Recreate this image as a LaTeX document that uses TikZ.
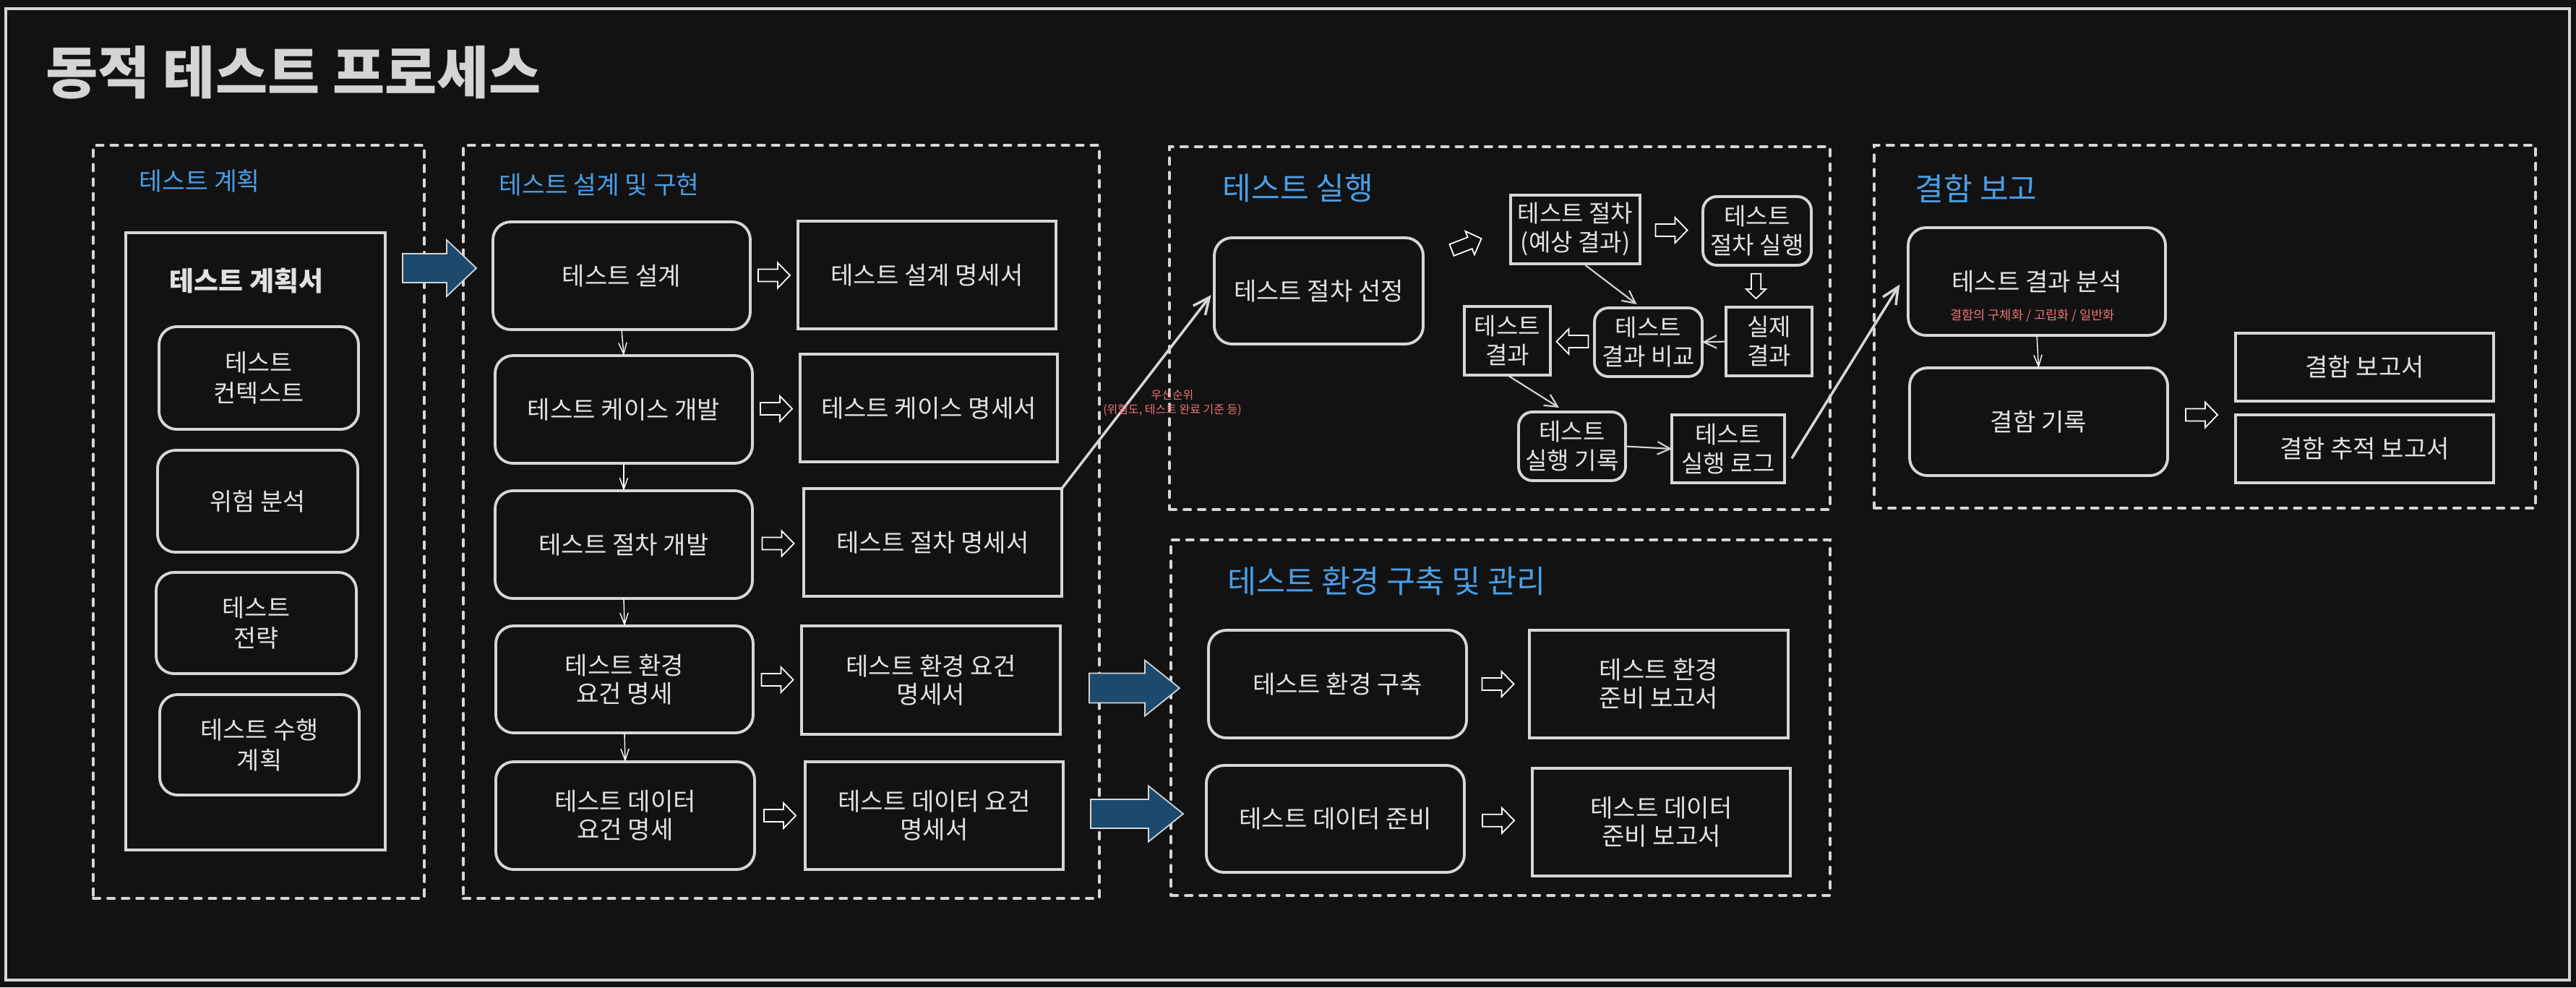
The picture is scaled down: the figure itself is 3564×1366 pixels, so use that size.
\documentclass[tikz,border=0pt]{standalone}
\usepackage{fontspec}
\setmainfont{Noto Sans CJK KR}
\usetikzlibrary{arrows.meta,calc}
\definecolor{bgC}{HTML}{121212}
\definecolor{lineC}{HTML}{D6D6D6}
\definecolor{txtC}{HTML}{E2E2E2}
\definecolor{titleC}{HTML}{D4D4D4}
\definecolor{blueC}{HTML}{4A9EE6}
\definecolor{redC}{HTML}{F07272}
\definecolor{arrC}{HTML}{1B4A6E}
\newcommand\myfs[2]{\fontsize{#1}{#2}\selectfont}
\begin{document}
\begin{tikzpicture}[x=0.01cm,y=-0.01cm,
  sz/.style 2 args={minimum width=#1*0.01cm,minimum height=#2*0.01cm},
  base/.style={inner sep=0pt,outer sep=0pt,align=center,text=txtC,font=\myfs{9.7pt}{11.1pt}},
  rbox/.style={base,draw=lineC,line width=1.1pt,rounded corners=7pt,fill=bgC},
  srbox/.style={rbox,rounded corners=5.5pt,font=\myfs{9.4pt}{11.4pt}},
  sqbox/.style={base,draw=lineC,line width=1.1pt,fill=bgC},
  ssqbox/.style={sqbox,font=\myfs{9.4pt}{11.4pt}},
  pbox/.style={rbox,font=\myfs{9.6pt}{12pt}},
  grp/.style={draw=lineC,line width=1.1pt,dash pattern=on 2.6pt off 3.1pt,line cap=round,inner sep=0pt,outer sep=0pt},
  lbl/.style={inner sep=0pt,anchor=west,text=blueC},
  note/.style={inner sep=0pt,align=center,text=redC},
  thinarr/.style={draw=white,line width=0.4pt,-{Straight Barb[length=4.5pt,width=3.2pt]}},
  midarr/.style={draw=lineC,line width=0.6pt,-{Straight Barb[length=5pt,width=5pt]}},
  annarr/.style={draw=lineC,line width=1pt,-{Straight Barb[length=6.5pt,width=6pt]}},
  harrow/.pic={\draw[line width=0.5pt,draw=white,fill=bgC] (-22,-8.5)--(5,-8.5)--(5,-17.5)--(22,0)--(5,17.5)--(5,8.5)--(-22,8.5)--cycle;},
  pics/bigarrow/.style n args={4}{code={\draw[line width=0.5pt,draw=lineC,fill=arrC] (0,-#3)--(#1-#2,-#3)--(#1-#2,-#4)--(#1,0)--(#1-#2,#4)--(#1-#2,#3)--(0,#3)--cycle;}},
]
\path[fill=bgC] (0,0) rectangle (3564,1366);
\useasboundingbox (0,0) rectangle (3564,1366);
\node[draw=lineC,line width=1.2pt,inner sep=0pt,sz={3547}{1344}] (frame) at (1781.5,684) {};
\node[anchor=west,inner sep=0pt,text=titleC,font=\bfseries\myfs{22.3pt}{26pt}] (title) at (63,100) {동적 테스트 프로세스};

% ---------- groups ----------
\node[grp,sz={458}{1042}] (planbox) at (358,722) {};
\node[grp,sz={880}{1042}] (dbox) at (1081,722) {};
\node[grp,sz={914}{502}] (ebox) at (2075,454) {};
\node[grp,sz={912}{492}] (vbox) at (2076,993) {};
\node[grp,sz={915}{502}] (fbox) at (3050.5,452) {};

\node[lbl,font=\myfs{9.85pt}{11pt}] (lplan) at (192,250) {테스트 계획};
\node[lbl,font=\myfs{9.8pt}{11pt}] (ldes) at (690,256) {테스트 설계 및 구현};
\node[lbl,font=\myfs{12.3pt}{14pt}] (lexe) at (1691,260) {테스트 실행};
\node[lbl,font=\myfs{12.4pt}{14pt}] (lenv) at (1698,804) {테스트 환경 구축 및 관리};
\node[lbl,font=\myfs{12.3pt}{14pt}] (ldef) at (2649,261) {결함 보고};

% ---------- plan ----------
\node[sqbox,sz={359}{854}] (plandoc) at (353.5,749) {};
\node[base,font=\bfseries\myfs{10.5pt}{12pt}] (plantitle) at (341,389) {테스트 계획서};
\node[pbox,sz={276}{142}] (p1) at (358,523) {테스트\\컨텍스트};
\node[pbox,sz={277}{141}] (p2) at (356.5,693.5) {위험 분석};
\node[pbox,sz={277}{140}] (p3) at (354.5,862) {테스트\\전략};
\node[pbox,sz={276}{139}] (p4) at (359,1030.5) {테스트 수행\\계획};

% ---------- design ----------
\node[rbox,sz={356}{149}] (d1) at (860,381.5) {테스트 설계};
\node[sqbox,sz={357}{149}] (r1) at (1282.5,380.5) {테스트 설계 명세서};
\node[rbox,sz={356}{149}] (d2) at (863,566.5) {테스트 케이스 개발};
\node[sqbox,sz={356}{149}] (r2) at (1285,564.5) {테스트 케이스 명세서};
\node[rbox,sz={356}{149}] (d3) at (863,753.5) {테스트 절차 개발};
\node[sqbox,sz={357}{149}] (r3) at (1290.5,750.5) {테스트 절차 명세서};
\node[rbox,sz={356}{148}] (d4) at (864,940) {테스트 환경\\요건 명세};
\node[sqbox,sz={358}{150}] (r4) at (1288,941) {테스트 환경 요건\\명세서};
\node[rbox,sz={358}{149}] (d5) at (865,1128.5) {테스트 데이터\\요건 명세};
\node[sqbox,sz={357}{149}] (r5) at (1292.5,1128.5) {테스트 데이터 요건\\명세서};

\draw[thinarr] (d1.south) -- (d2.north);
\draw[thinarr] (d2.south) -- (d3.north);
\draw[thinarr] (d3.south) -- (d4.north);
\draw[thinarr] (d4.south) -- (d5.north);
\pic at ($(d1.east)!0.5!(r1.west)$) {harrow};
\pic at ($(d2.east)!0.5!(r2.west)$) {harrow};
\pic at ($(d3.east)!0.5!(r3.west)$) {harrow};
\pic at ($(d4.east)!0.5!(r4.west)$) {harrow};
\pic at ($(d5.east)!0.5!(r5.west)$) {harrow};

% ---------- execution ----------
\node[rbox,sz={289}{147}] (sel) at (1824.5,402.5) {테스트 절차 선정};
\node[ssqbox,sz={179}{95}] (ep) at (2179.5,317.5) {테스트 절차\\(예상 결과)};
\node[srbox,sz={150}{95}] (exe) at (2431,319.5) {테스트\\절차 실행};
\node[ssqbox,sz={119}{95}] (act) at (2447.5,472.5) {실제\\결과};
\node[srbox,sz={149}{95}] (cmp) at (2280.5,473.5) {테스트\\결과 비교};
\node[ssqbox,sz={119}{95}] (res) at (2085.5,471.5) {테스트\\결과};
\node[srbox,sz={148}{95}] (rec) at (2175,617.5) {테스트\\실행 기록};
\node[ssqbox,sz={156}{94}] (log) at (2391,621) {테스트\\실행 로그};

\pic[rotate=21] at (2029,338) {harrow};
\pic at ($(ep.east)!0.5!(exe.west)$) {harrow};
\pic[rotate=-90,scale=0.78] at (2429.5,396) {harrow};
\pic[rotate=180] at ($(res.east)!0.5!(cmp.west)$) {harrow};
\draw[midarr] ($(ep.south)+(14,2)$) -- ($(cmp.north)+(-16,-5)$);
\draw[midarr] (act.west) -- (cmp.east);
\draw[midarr] (res.south) -- ($(rec.north)+(-18,-6)$);
\draw[midarr] (rec.east) -- (log.west);

% ---------- environment ----------
\node[rbox,sz={357}{149}] (e1) at (1850.5,946.5) {테스트 환경 구축};
\node[sqbox,sz={358}{149}] (er1) at (2295,946.5) {테스트 환경\\준비 보고서};
\node[rbox,sz={357}{148}] (e2) at (1847.5,1133) {테스트 데이터 준비};
\node[sqbox,sz={357}{149}] (er2) at (2298.5,1137.5) {테스트 데이터\\준비 보고서};
\pic at ($(e1.east)!0.5!(er1.west)$) {harrow};
\pic at ($(e2.east)!0.5!(er2.west)$) {harrow};

% ---------- defects ----------
\node[rbox,sz={356}{149}] (an) at (2818,389.5) {테스트 결과 분석};
\node[note,font=\myfs{5pt}{6pt}] (annote) at (2812,437) {결함의 구체화 / 고립화 / 일반화};
\node[rbox,sz={357}{149}] (dr) at (2820.5,583.5) {결함 기록};
\node[sqbox,sz={357}{94}] (f1) at (3271.5,508) {결함 보고서};
\node[sqbox,sz={357}{94}] (f2) at (3271.5,621) {결함 추적 보고서};
\coordinate (fmid) at ($(f1.west)!0.5!(f2.west)$);
\draw[thinarr] (an.south) -- (dr.north);
\pic at ($(dr.east)!0.5!(fmid)$) {harrow};

% ---------- cross-group connectors ----------
\pic at (557,371) {bigarrow={102}{41}{20}{39}};
\pic at (1507,952) {bigarrow={125}{48}{20.5}{38.5}};
\pic at (1509,1126) {bigarrow={128}{48}{20}{38.5}};
\draw[annarr,shorten >=2pt] (r3.north east) -- (sel.west);
\node[note,font=\myfs{4.55pt}{5.7pt}] (prio) at (1622,557) {우선순위\\(위험도, 테스트 완료 기준 등)};
\draw[annarr,shorten >=2pt] ($(log.east)+(10,13)$) -- ($(an.west)+(-8,-2)$);
\end{tikzpicture}
\end{document}
